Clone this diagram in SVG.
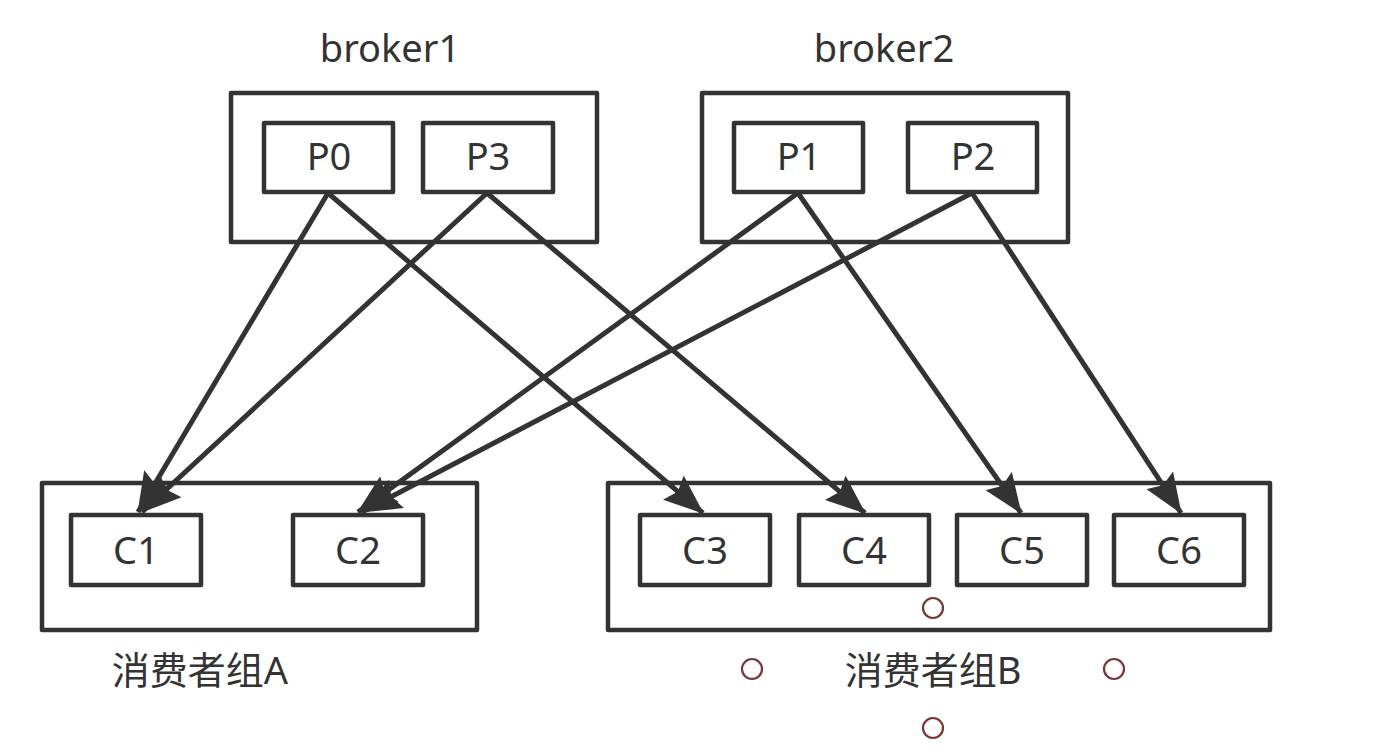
<svg xmlns="http://www.w3.org/2000/svg" width="1373" height="749" viewBox="0 0 1373 749">
<style>
.box{fill:#fff;stroke:#333;stroke-width:4.5;stroke-linejoin:round}
.lbl{font-family:"Noto Sans","Noto Sans CJK SC",sans-serif;font-size:38px;fill:#333;text-anchor:middle}
.edge{stroke:#333;stroke-width:5;fill:none;marker-end:url(#arr)}
.dot{fill:none;stroke:#7a3535;stroke-width:2.2}
</style>
<defs>
<marker id="arr" viewBox="0 0 40 32" refX="39" refY="16" markerWidth="40" markerHeight="32" markerUnits="userSpaceOnUse" orient="auto">
<path d="M0,0 L40,16 L0,32 L6,16 z" fill="#333"/>
</marker>
</defs>
<rect width="1373" height="749" fill="#fff"/>
<g id="broker1">
<text class="lbl" x="390" y="62">broker1</text>
<rect class="box" x="231" y="93" width="366" height="149"/>
</g>
<g id="P0"><rect class="box" x="264" y="123" width="129" height="69"/><text class="lbl" x="329" y="170">P0</text></g>
<g id="P3"><rect class="box" x="423" y="123" width="130" height="69"/><text class="lbl" x="488" y="170">P3</text></g>
<g id="broker2">
<text class="lbl" x="884" y="62">broker2</text>
<rect class="box" x="702" y="93" width="366" height="149"/>
</g>
<g id="P1"><rect class="box" x="734" y="123" width="129" height="69"/><text class="lbl" x="799" y="170">P1</text></g>
<g id="P2"><rect class="box" x="908" y="123" width="129" height="69"/><text class="lbl" x="973" y="170">P2</text></g>
<g id="groupA">
<rect class="box" x="42" y="483" width="435" height="147"/>
<text class="lbl" x="200" y="684">消费者组A</text>
</g>
<g id="C1"><rect class="box" x="71" y="515" width="130" height="70"/><text class="lbl" x="136" y="564">C1</text></g>
<g id="C2"><rect class="box" x="293" y="515" width="130" height="70"/><text class="lbl" x="358" y="564">C2</text></g>
<g id="groupB">
<rect class="box" x="608" y="483" width="662" height="147"/>
<text class="lbl" x="933" y="684">消费者组B</text>
</g>
<g id="C3"><rect class="box" x="640" y="515" width="130" height="70"/><text class="lbl" x="705" y="564">C3</text></g>
<g id="C4"><rect class="box" x="799" y="515" width="130" height="70"/><text class="lbl" x="864" y="564">C4</text></g>
<g id="C5"><rect class="box" x="957" y="515" width="130" height="70"/><text class="lbl" x="1022" y="564">C5</text></g>
<g id="C6"><rect class="box" x="1114" y="515" width="130" height="70"/><text class="lbl" x="1179" y="564">C6</text></g>
<g id="connectors">
<line class="edge" x1="328" y1="193" x2="138" y2="512"/>
<line class="edge" x1="487" y1="193" x2="142" y2="512"/>
<line class="edge" x1="798" y1="193" x2="358" y2="512"/>
<line class="edge" x1="972" y1="193" x2="362" y2="512"/>
<line class="edge" x1="328" y1="193" x2="703" y2="513"/>
<line class="edge" x1="487" y1="193" x2="865" y2="513"/>
<line class="edge" x1="798" y1="193" x2="1021" y2="513"/>
<line class="edge" x1="972" y1="193" x2="1181" y2="513"/>
</g>
<g id="handles">
<circle class="dot" cx="933" cy="608" r="10"/>
<circle class="dot" cx="752" cy="669" r="10"/>
<circle class="dot" cx="1114" cy="669" r="10"/>
<circle class="dot" cx="933" cy="728" r="10"/>
</g>
</svg>
